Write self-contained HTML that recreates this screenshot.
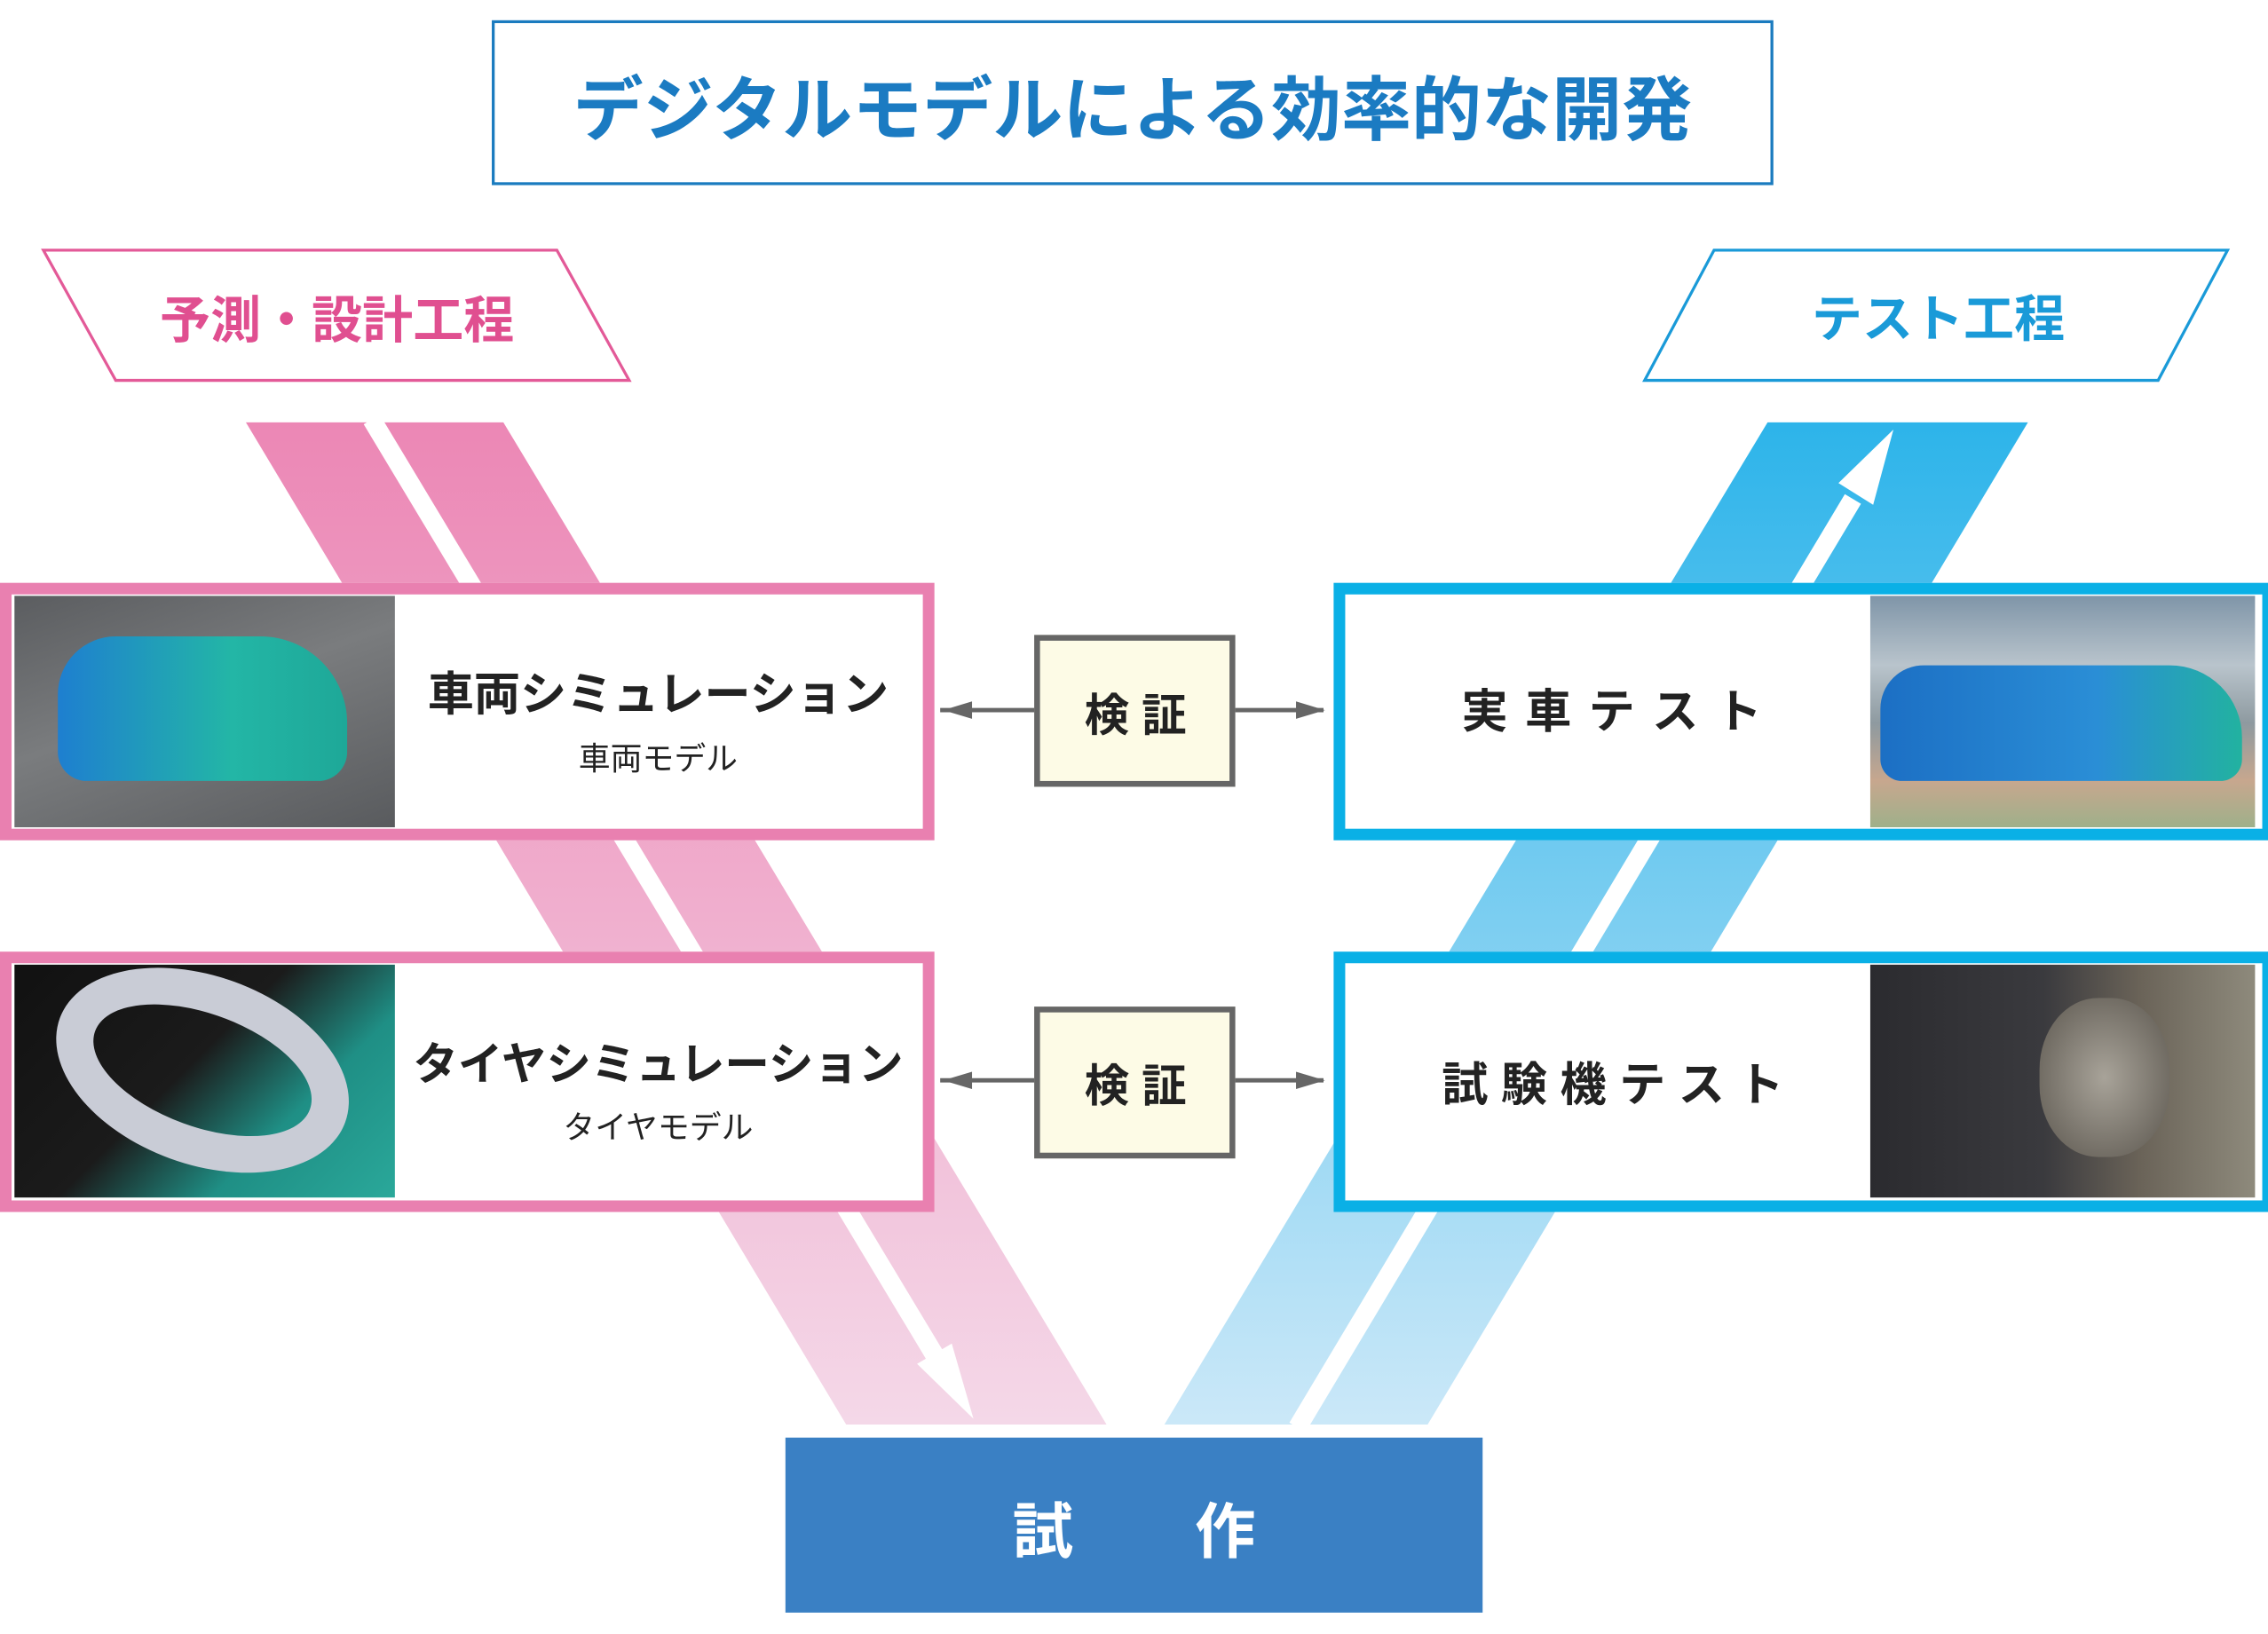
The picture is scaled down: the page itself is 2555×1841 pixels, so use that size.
<!DOCTYPE html>
<html><head><meta charset="utf-8">
<style>
html,body{margin:0;padding:0;background:#fff;}
body{width:2555px;height:1841px;overflow:hidden;position:relative;}
#w{position:absolute;left:0;top:0;width:1568px;height:1130px;transform:scale(1.6295);transform-origin:0 0;font-family:"Liberation Sans","Noto Sans CJK JP",sans-serif;}
.a{position:absolute;box-sizing:border-box;}
.t{position:absolute;white-space:nowrap;font-weight:bold;transform:translate(-50%,-50%);}
</style></head><body>
<div id="w">
<svg class="a" style="left:0;top:0" width="1568" height="1130">
<defs>
<linearGradient id="pg" x1="0" y1="0" x2="0" y2="1"><stop offset="0" stop-color="#ec87b5"/><stop offset="1" stop-color="#f4d8e8"/></linearGradient>
<linearGradient id="bg" x1="0" y1="0" x2="0" y2="1"><stop offset="0" stop-color="#2db4ea"/><stop offset="1" stop-color="#cbe8f8"/></linearGradient>
</defs>
<polygon points="30,173 385,173 435,263 80,263" fill="#fff" stroke="#e35a98" stroke-width="2"/>
<polygon points="1185,173 1540,173 1492,263 1137,263" fill="#fff" stroke="#1a9ad8" stroke-width="2"/>
<polygon points="170,292 348,292 765,985 585,985" fill="url(#pg)"/>
<polygon points="1222,292 1402,292 987,985 805,985" fill="url(#bg)"/>
<line x1="257" y1="290" x2="648" y2="940" stroke="#fff" stroke-width="13"/>
<polygon points="634,943 658,929 673,981" fill="#fff"/>
<line x1="897" y1="987" x2="1281" y2="345" stroke="#fff" stroke-width="13"/>
<polygon points="1271,334 1295,349 1309,297" fill="#fff"/>
<line x1="650" y1="491" x2="716" y2="491" stroke="#666" stroke-width="3"/>
<polygon points="652,491 672,485 672,497" fill="#666"/>
<line x1="853" y1="491" x2="915" y2="491" stroke="#666" stroke-width="3"/>
<polygon points="916,491 896,485 896,497" fill="#666"/>
<line x1="650" y1="747" x2="716" y2="747" stroke="#666" stroke-width="3"/>
<polygon points="652,747 672,741 672,753" fill="#666"/>
<line x1="853" y1="747" x2="915" y2="747" stroke="#666" stroke-width="3"/>
<polygon points="916,747 896,741 896,753" fill="#666"/>
</svg>
<div class="a" style="left:340px;top:14px;width:886px;height:114px;border:2px solid #1a7bbf;"></div>
<div class="t" style="left:783px;top:72px;font-size:48.5px;color:#1b7bc2;">デジタルモデルによる効率的な開発</div>
<div class="t" style="left:233px;top:219px;font-size:35px;color:#e04f90;">予測・設計工程</div>
<div class="t" style="left:1340px;top:218px;font-size:35px;color:#1a9ad8;">テスト工程</div>

<div class="a" style="left:0;top:403px;width:646px;height:178px;border:8px solid #e980b0;background:#fff;"></div>
<div class="a" style="left:10px;top:412px;width:263px;height:160px;background:linear-gradient(160deg,#5b5d60 0%,#7a7c7e 45%,#595b5e 100%);"></div>
<div class="a" style="left:40px;top:440px;width:200px;height:100px;border-radius:40px 60px 20px 20px;background:linear-gradient(90deg,#1e7fd0,#23b6a6 60%,#1ea898);"></div>
<div class="t" style="left:455px;top:478px;font-size:32px;color:#222;">車両シミュレーション</div>
<div class="t" style="left:455px;top:523px;font-size:22px;color:#222;font-weight:normal;">車両モデル</div>

<div class="a" style="left:0;top:658px;width:646px;height:180px;border:8px solid #e980b0;background:#fff;"></div>
<div class="a" style="left:10px;top:667px;width:263px;height:161px;background:linear-gradient(135deg,#111 0%,#1b1b1b 45%,#1f8f85 70%,#2aa89a 100%);"></div>
<div class="a" style="left:35px;top:675px;width:210px;height:130px;border-radius:50%;border:26px solid #c9ccd6;transform:rotate(20deg);"></div>
<div class="t" style="left:455px;top:733px;font-size:31px;color:#222;">タイヤシミュレーション</div>
<div class="t" style="left:455px;top:778px;font-size:22px;color:#222;font-weight:normal;">タイヤモデル</div>

<div class="a" style="left:715px;top:439px;width:139px;height:105px;border:4px solid #666;background:#fdfbe6;"></div>
<div class="t" style="left:785px;top:492px;font-size:31px;color:#222;">検 証</div>
<div class="a" style="left:715px;top:696px;width:139px;height:105px;border:4px solid #666;background:#fdfbe6;"></div>
<div class="t" style="left:785px;top:748px;font-size:31px;color:#222;">検 証</div>

<div class="a" style="left:922px;top:403px;width:650px;height:178px;border:8px solid #0ab0e6;background:#fff;"></div>
<div class="a" style="left:1293px;top:412px;width:266px;height:160px;background:linear-gradient(180deg,#7f95a8 0%,#b9c4cc 30%,#8e9aa0 55%,#c7a78e 80%,#9fb08a 100%);"></div>
<div class="a" style="left:1300px;top:460px;width:250px;height:80px;border-radius:30px 50px 15px 15px;background:linear-gradient(90deg,#1c6fc4,#2a8ed6 60%,#22b2a0);"></div>
<div class="t" style="left:1115px;top:490px;font-size:32px;color:#222;letter-spacing:1.5px;">実 車 テ ス ト</div>

<div class="a" style="left:922px;top:658px;width:650px;height:180px;border:8px solid #0ab0e6;background:#fff;"></div>
<div class="a" style="left:1293px;top:667px;width:266px;height:161px;background:linear-gradient(90deg,#2b2b2f 0%,#3a3a3e 45%,#6a6358 70%,#8e8a7c 100%);"></div>
<div class="a" style="left:1410px;top:690px;width:90px;height:110px;border-radius:45%;background:radial-gradient(#a8a399,#5b564e);"></div>
<div class="t" style="left:1115px;top:748px;font-size:32px;color:#222;">試 験 機 テ ス ト</div>

<div class="a" style="left:543px;top:994px;width:482px;height:121px;background:#3a80c4;"></div>
<div class="t" style="left:784px;top:1056px;font-size:42px;color:#fff;">試　　作</div>
</div>
</body></html>
